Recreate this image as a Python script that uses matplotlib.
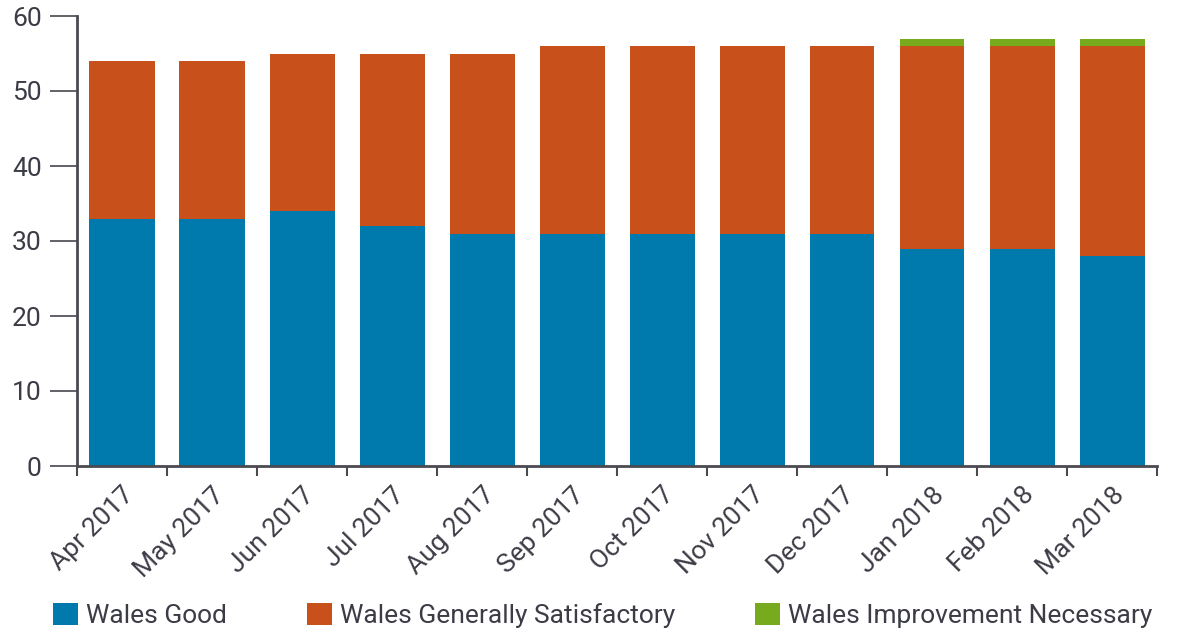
import matplotlib
matplotlib.use("Agg")
import matplotlib.pyplot as plt
import numpy as np

months = ["Apr 2017", "May 2017", "Jun 2017", "Jul 2017", "Aug 2017", "Sep 2017",
          "Oct 2017", "Nov 2017", "Dec 2017", "Jan 2018", "Feb 2018", "Mar 2018"]
good = [33, 33, 34, 32, 31, 31, 31, 31, 31, 29, 29, 28]
satisfactory = [21, 21, 21, 23, 24, 25, 25, 25, 25, 27, 27, 28]
improvement = [0, 0, 0, 0, 0, 0, 0, 0, 0, 1, 1, 1]
series_names = ["Wales Good", "Wales Generally Satisfactory", "Wales Improvement Necessary"]
colors = ["#007aad", "#c8511b", "#78aa1e"]
yticks = [0, 10, 20, 30, 40, 50, 60]

plt.rcParams['font.family'] = ['Roboto', 'DejaVu Sans']
text_color = "#3c3c46"

W, H = 1177, 634
fig = plt.figure(figsize=(W / 100, H / 100), dpi=100)
ax = fig.add_axes([77 / W, (H - 466) / H, (1157 - 77) / W, 450 / H])

x = np.arange(len(months))
bw = 65 / 90
bottom = np.zeros(len(months))
handles = []
for vals, c, name in zip([good, satisfactory, improvement], colors, series_names):
    v = np.array(vals, dtype=float)
    b = ax.bar(x, v, bw, bottom=bottom, color=c, label=name, linewidth=0)
    handles.append(b)
    bottom += v

ax.set_xlim(-0.5, len(months) - 0.5)
ax.set_ylim(0, 60)
ax.set_yticks(yticks)
ax.set_yticklabels([str(t) for t in yticks], fontsize=19, color=text_color)
ax.set_xticks(x)
ax.set_xticklabels(months, rotation=45, ha='right', rotation_mode='anchor',
                   fontsize=19, color=text_color)
ax.set_xticks(np.arange(len(months) + 1) - 0.5, minor=True)
ax.tick_params(axis='x', which='major', length=0, pad=12)
ax.tick_params(axis='x', which='minor', length=7.5, width=1.5, color="#4a4a50", direction='out')
ax.tick_params(axis='y', length=19.5, width=1.3, color="#55555c", pad=6)

for s in ['top', 'right']:
    ax.spines[s].set_visible(False)
for s in ['left', 'bottom']:
    ax.spines[s].set_color("#4a4a50")
    ax.spines[s].set_linewidth(2)

fs = 19
fs_px = fs * 100 / 72
leg = fig.legend(handles=handles, labels=series_names, loc='lower left',
                 bbox_to_anchor=(53 / W - 0.0, 0.0), ncol=3, frameon=False,
                 fontsize=fs, handlelength=25 / fs_px, handleheight=25 / fs_px,
                 handletextpad=8 / fs_px, columnspacing=80 / fs_px,
                 borderaxespad=0, borderpad=0)
for t in leg.get_texts():
    t.set_color(text_color)
leg.set_bbox_to_anchor((53 / W, 6 / H), transform=fig.transFigure)

fig.savefig("out.png", dpi=100)
